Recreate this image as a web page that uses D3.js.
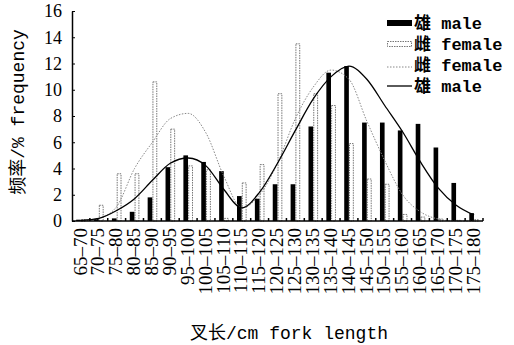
<!DOCTYPE html>
<html>
<head>
<meta charset="utf-8">
<script src="https://cdn.jsdelivr.net/npm/d3@7"></script>
<style>
  body { margin: 0; background: #fff; }
  svg { display: block; }
</style>
</head>
<body>
<div class="chart-div"></div>
<script>
// fork length classes (cm)
var categories = ["65–70", "70–75", "75–80", "80–85", "85–90", "90–95", "95–100", "100–105",
  "105–110", "110–115", "115–120", "120–125", "125–130", "130–135", "135–140", "140–145",
  "145–150", "150–155", "155–160", "160–165", "165–170", "170–175", "175–180"];
// histogram frequencies (%)
var maleFreq = [0.1, 0.15, 0.2, 0.7, 1.8, 4.1, 5.0, 4.5, 3.8, 1.9, 1.7, 2.8, 2.8, 7.2, 11.3, 11.8,
  7.5, 7.5, 6.9, 7.4, 5.6, 2.9, 0.6];
var femaleFreq = [0.1, 1.2, 3.6, 3.6, 10.6, 7.0, 4.2, 3.9, 0.2, 2.9, 4.3, 9.7, 13.5, 9.7, 8.8, 5.9,
  3.2, 2.8, 0.5, 0.3, 0.15, 0.05, 0.1];
// fitted curves read at class centres
var maleFit = [0.05, 0.2, 0.8, 1.7, 3.1, 4.4, 4.8, 4.2, 2.4, 1.0, 2.2, 4.4, 6.9, 9.3, 11.0, 11.8,
  10.8, 8.8, 6.8, 4.5, 2.5, 1.2, 0.45];
var femaleFit = [0.0, 0.2, 1.1, 4.0, 6.0, 7.8, 8.2, 6.7, 3.4, 1.0, 2.0, 4.4, 7.8, 10.2, 11.5, 10.8,
  7.6, 4.6, 2.0, 0.7, 0.15, 0.0, 0.0];
var yTicks = [0, 2, 4, 6, 8, 10, 12, 14, 16];

var width = 514, height = 345;
var plotLeft = 72, plotRight = 483, plotTop = 11, plotBottom = 221;

var svg = d3.select(".chart-div").append("svg")
  .attr("width", width)
  .attr("height", height);

var x = d3.scaleBand().domain(categories).range([plotLeft, plotRight]).padding(0);
var sub = d3.scaleBand().domain(["male", "female"]).range([-5, 5]).padding(0.05);
var y = d3.scaleLinear().domain([0, 16]).range([plotBottom, plotTop]);

var serif = "'Liberation Serif', 'Times New Roman', serif";
var mono = "'Liberation Mono', 'Noto Sans CJK SC', monospace";

// female bars (open, dashed outline)
svg.append("g").selectAll("rect")
  .data(femaleFreq)
  .enter().append("rect")
    .attr("x", function(d, i) { return x(categories[i]) + x.bandwidth() / 2 + sub("female") + 0.4; })
    .attr("y", function(d) { return y(d); })
    .attr("width", sub.bandwidth() - 0.8)
    .attr("height", function(d) { return y(0) - y(d); })
    .attr("fill", "#fff")
    .attr("stroke", "#666")
    .attr("stroke-width", 0.9)
    .attr("stroke-dasharray", "1.5,1");

// male bars (solid)
svg.append("g").selectAll("rect")
  .data(maleFreq)
  .enter().append("rect")
    .attr("x", function(d, i) { return x(categories[i]) + x.bandwidth() / 2 + sub("male"); })
    .attr("y", function(d) { return y(d); })
    .attr("width", sub.bandwidth())
    .attr("height", function(d) { return y(0) - y(d); })
    .attr("fill", "#000");

// fitted curves
var line = d3.line()
  .x(function(d, i) { return x(categories[i]) + x.bandwidth() / 2; })
  .y(function(d) { return y(d); })
  .curve(d3.curveMonotoneX);

svg.append("path")
  .attr("d", line(femaleFit))
  .attr("fill", "none")
  .attr("stroke", "#888")
  .attr("stroke-width", 1)
  .attr("stroke-dasharray", "1.5,1.5");

svg.append("path")
  .attr("d", line(maleFit))
  .attr("fill", "none")
  .attr("stroke", "#000")
  .attr("stroke-width", 1.3);

// y axis, ticks pointing inwards
var yAxis = svg.append("g")
  .attr("transform", "translate(" + plotLeft + ",0)")
  .call(d3.axisLeft(y).tickValues(yTicks).tickSizeInner(-3).tickSizeOuter(0).tickPadding(10));
yAxis.select(".domain").attr("stroke-width", 1.5);
yAxis.selectAll("text")
  .attr("font-family", serif)
  .attr("font-size", "18px")
  .attr("fill", "#000");

// x axis, boundary ticks pointing upwards
svg.append("line")
  .attr("x1", plotLeft).attr("x2", plotRight)
  .attr("y1", plotBottom).attr("y2", plotBottom)
  .attr("stroke", "#000")
  .attr("stroke-width", 1.5);
svg.append("g").selectAll("line")
  .data(categories)
  .enter().append("line")
    .attr("x1", function(d) { return x(d) + x.step(); })
    .attr("x2", function(d) { return x(d) + x.step(); })
    .attr("y1", plotBottom)
    .attr("y2", plotBottom - 3)
    .attr("stroke", "#000")
    .attr("stroke-width", 1.5);

svg.append("g").selectAll("text")
  .data(categories)
  .enter().append("text")
    .attr("transform", function(d) {
      return "translate(" + (x(d) + x.bandwidth() / 2 - 1) + "," + (plotBottom + 7) + ") rotate(-90)";
    })
    .attr("dy", "0.35em")
    .attr("text-anchor", "end")
    .attr("font-family", serif)
    .attr("font-size", "19px")
    .text(function(d) { return d; });

// axis titles
svg.append("text")
  .attr("x", 289)
  .attr("y", 339)
  .attr("text-anchor", "middle")
  .attr("font-family", mono)
  .attr("font-size", "18px")
  .text("叉长/cm fork length");

svg.append("text")
  .attr("transform", "translate(24,112) rotate(-90)")
  .attr("text-anchor", "middle")
  .attr("font-family", mono)
  .attr("font-size", "18px")
  .text("频率/% frequency");

// legend
var legendItems = [
  {label: "雄 male", kind: "solidBar"},
  {label: "雌 female", kind: "openBar"},
  {label: "雌 female", kind: "dotted"},
  {label: "雄 male", kind: "line"}
];
var legend = svg.append("g").attr("transform", "translate(387,23)");
legendItems.forEach(function(item, i) {
  var row = legend.append("g").attr("transform", "translate(0," + (i * 21) + ")");
  if (item.kind === "solidBar") {
    row.append("rect").attr("x", 0).attr("y", -3).attr("width", 25).attr("height", 6).attr("fill", "#000");
  } else if (item.kind === "openBar") {
    row.append("rect").attr("x", 0.5).attr("y", -2.5).attr("width", 24).attr("height", 5)
      .attr("fill", "#fff").attr("stroke", "#666").attr("stroke-width", 0.9).attr("stroke-dasharray", "1.5,1");
  } else if (item.kind === "dotted") {
    row.append("line").attr("x1", 0).attr("x2", 25).attr("y1", 2).attr("y2", 2)
      .attr("stroke", "#888").attr("stroke-width", 1).attr("stroke-dasharray", "1.5,1.5");
  } else {
    row.append("line").attr("x1", 0).attr("x2", 25).attr("y1", 0).attr("y2", 0)
      .attr("stroke", "#000").attr("stroke-width", 1.3);
  }
  row.append("text")
    .attr("x", 27)
    .attr("y", 0)
    .attr("dy", "0.35em")
    .attr("font-family", mono)
    .attr("font-weight", "bold")
    .attr("font-size", "17px")
    .text(item.label);
});
</script>
</body>
</html>
